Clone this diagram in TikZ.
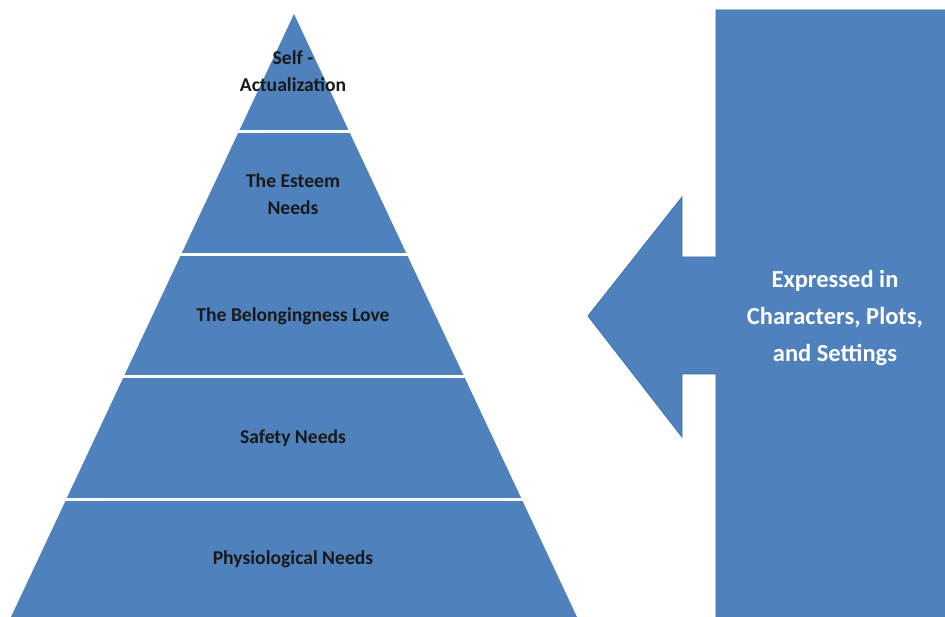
\documentclass[tikz,border=0pt]{standalone}
\usepackage{fontspec}
\setmainfont{Carlito}
\definecolor{officeblue}{HTML}{4F81BD}
\definecolor{officeedge}{HTML}{3F6FA8}
\begin{document}
\begin{tikzpicture}[x=1pt,y=-1pt,
  layertext/.style={font=\bfseries\fontsize{19.6}{27}\selectfont, text=black!90, align=center, inner sep=0pt},
  arrowtext/.style={font=\bfseries\fontsize{24.5}{37}\selectfont, text=white, align=center, inner sep=0pt},
  sepline/.style={draw=white, line width=3pt}]
\useasboundingbox (0,0) rectangle (945,617);
\fill[white] (0,0) rectangle (945,617);
% pyramid
\coordinate (apex) at (294,14);
\coordinate (bl) at (11,617);
\coordinate (br) at (577,617);
\fill[officeblue] (apex) -- (br) -- (bl) -- cycle;
% separators
\foreach \yy in {132,255,377,499} {
  \pgfmathsetmacro{\hw}{0.4693*(\yy-14)+1}
  \draw[sepline] ({294-\hw},\yy) -- ({294+\hw},\yy);
}
% layer labels
\node[layertext] (self) at (293,71) {Self -\\Actualization};
\node[layertext] (esteem) at (293,194) {The Esteem\\Needs};
\node[layertext] (love) at (293,316) {The Belongingness Love};
\node[layertext] (safety) at (293,438) {Safety Needs};
\node[layertext] (phys) at (293,559) {Physiological Needs};
% arrow callout
\fill[officeblue, draw=officeedge, line width=0.8pt]
  (946,10) -- (716,10) -- (716,257) -- (682,257) -- (682,197) -- (588,316)
  -- (682,437) -- (682,374) -- (716,374) -- (716,618) -- (946,618) -- cycle;
\node[arrowtext] (expr) at (835,318) {Expressed in\\Characters, Plots,\\and Settings};
\end{tikzpicture}
\end{document}
